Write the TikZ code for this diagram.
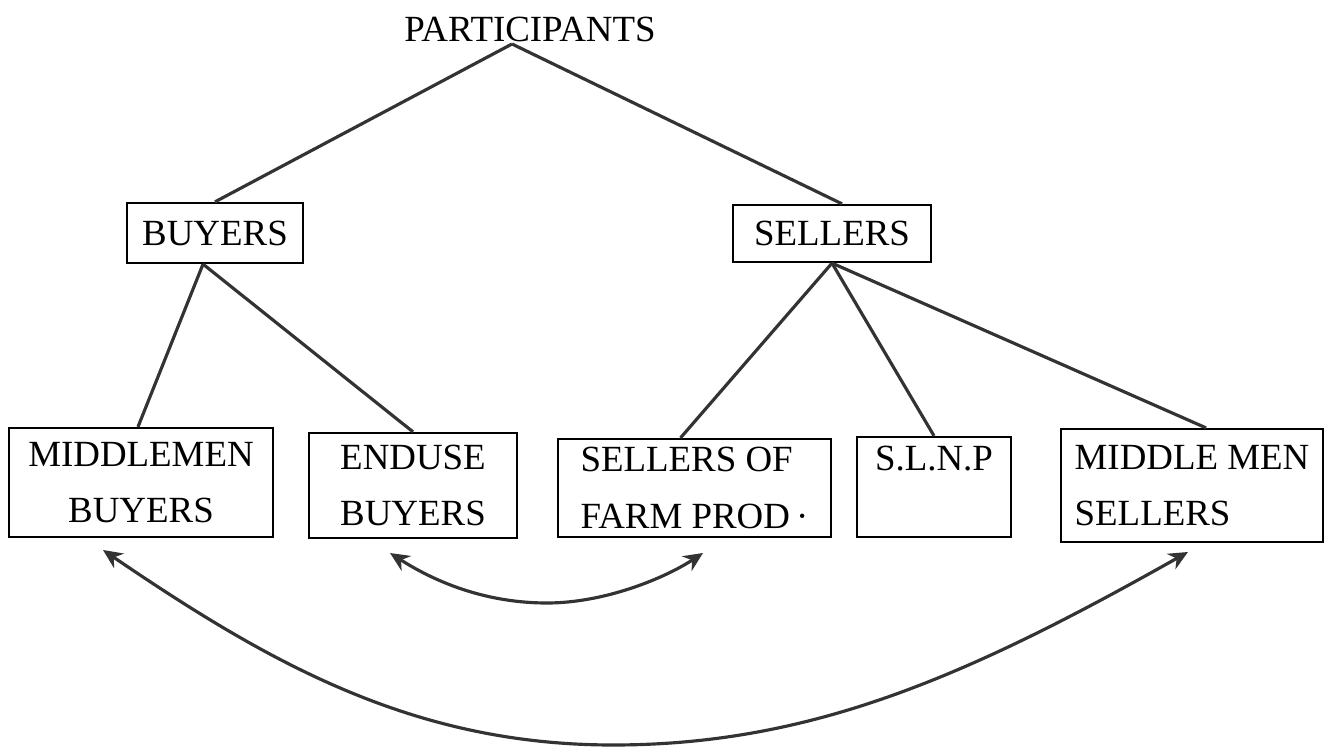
\documentclass[tikz,border=0pt]{standalone}
\usepackage{fontspec}
\setmainfont{Liberation Serif}
\usetikzlibrary{arrows.meta}
\tikzset{
  lbl/.style={font=\fontsize{21pt}{32pt}\selectfont, inner sep=1pt},
  box/.style={draw=black, line width=1.3pt, font=\fontsize{21pt}{32pt}\selectfont, inner sep=2pt},
  conn/.style={draw=black!80, line width=1.8pt},
  flow/.style={draw=black!80, line width=1.8pt, {Stealth[length=11pt,width=10pt]}-{Stealth[length=11pt,width=10pt]}}
}
\begin{document}
\begin{tikzpicture}[x=0.02cm,y=-0.02cm]
\useasboundingbox (0,0) rectangle (1325,749);
% texts and boxes
\node[lbl] (part) at (530,29.5) {PARTICIPANTS};
\node[box, minimum width=3.52cm, minimum height=1.2cm] (buyers) at (215,233) {BUYERS};
\node[box, minimum width=3.96cm, minimum height=1.14cm] (sellers) at (832,233.5) {SELLERS};
\node[box, align=center, minimum width=5.28cm, minimum height=2.18cm] (mb) at (141,482.5) {MIDDLEMEN\\BUYERS};
\node[box, align=left, minimum width=4.16cm, minimum height=2.1cm] (eb) at (413,485.5) {ENDUSE\\BUYERS};
\node[box, align=left, minimum width=5.46cm, minimum height=1.96cm] (sf) at (694.5,488) {SELLERS OF\\FARM PROD\,·};
\node[box, align=center, minimum width=3.08cm, minimum height=2.0cm] (sl) at (934,487) {S.L.N.P\\\phantom{S}};
\node[box, align=left, minimum width=5.24cm, minimum height=2.26cm] (ms) at (1192,485.5) {MIDDLE MEN\\SELLERS};
% tree connectors
\draw[conn] ([xshift=-0.36cm]part.south) -- (buyers.north);
\draw[conn] ([xshift=-0.36cm]part.south) -- ([xshift=0.2cm]sellers.north);
\draw[conn] ([xshift=-0.24cm]buyers.south) -- ([xshift=-0.06cm]mb.north);
\draw[conn] ([xshift=-0.24cm]buyers.south) -- (eb.north);
\draw[conn] (sellers.south) -- ([xshift=-0.28cm]sf.north);
\draw[conn] (sellers.south) -- (sl.north);
\draw[conn] (sellers.south) -- ([xshift=0.28cm]ms.north);
% flow arrows
\coordinate (a1) at (390,553);
\coordinate (a2) at (703,553);
\coordinate (b1) at (103,550);
\coordinate (b2) at (1188,552);
\draw[flow] (a1) .. controls (440,585) and (490,603) .. (547,603) .. controls (605,603) and (665,578) .. (a2);
\draw[flow] (b1) .. controls (269,663) and (413,745) .. (613,745) .. controls (813,745) and (970,675) .. (b2);
\end{tikzpicture}
\end{document}
